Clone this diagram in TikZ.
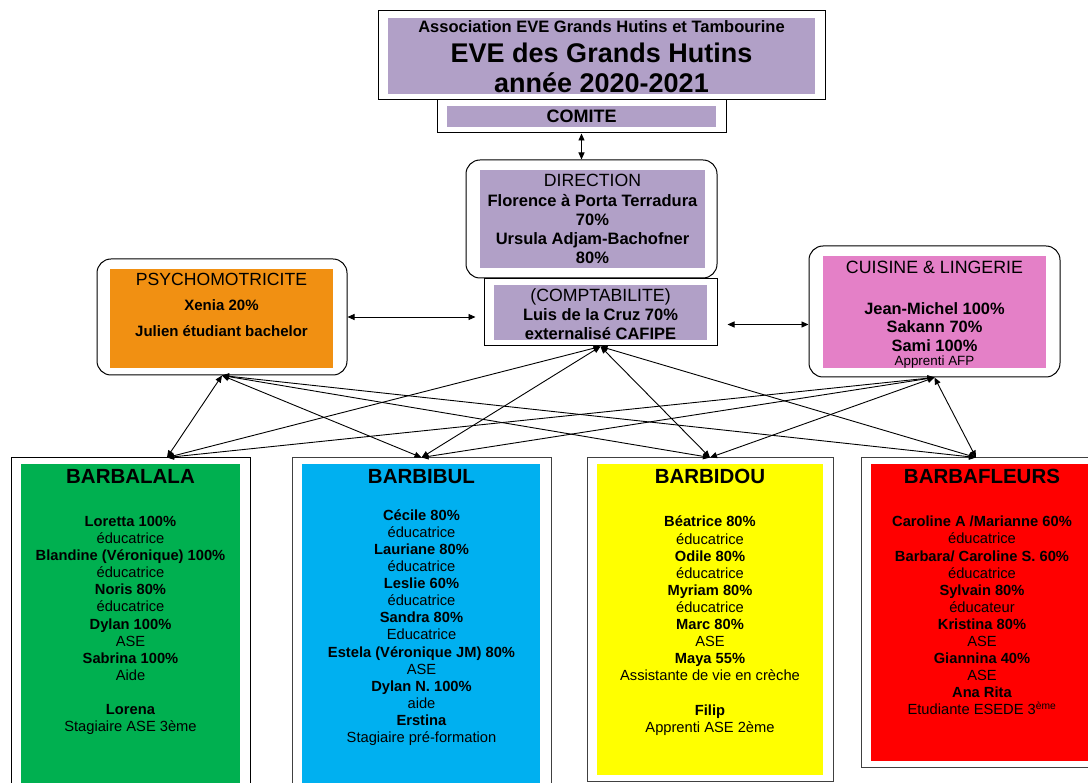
\documentclass[tikz,border=0pt]{standalone}
\usepackage{fontspec}
\setmainfont{Liberation Sans}
\usetikzlibrary{arrows.meta}

\definecolor{lilas}{RGB}{177,160,199}
\definecolor{orangepsy}{RGB}{241,144,18}
\definecolor{rosecuisine}{RGB}{228,128,199}
\definecolor{vertlala}{RGB}{0,176,80}
\definecolor{bleubibul}{RGB}{0,176,240}
\definecolor{jaunebidou}{RGB}{255,255,0}
\definecolor{rougefleurs}{RGB}{255,0,0}

\tikzset{
  cadre/.style={draw=black, line width=1pt, inner sep=0pt},
  arrondi/.style={cadre, rounded corners=14pt},
  fond/.style={inner sep=0pt, draw=none},
  corps/.style={align=center, inner sep=0pt, anchor=north},
  lien/.style={{Triangle[length=7pt,width=6pt]}-{Triangle[length=7pt,width=6pt]}, line width=0.9pt}
}

\begin{document}
\begin{tikzpicture}[x=1pt,y=-1pt]

    \useasboundingbox (0,0) rectangle (1088,783);
    \clip (0,0) rectangle (1088,783);
    \fill[white] (0,0) rectangle (1088,783);

    %titre
    \node[cadre, minimum width=447, minimum height=89] (titre) at (601.5,55.5) {};
    \node[fond, fill=lilas, minimum width=427, minimum height=76] (titreFond) at (601.5,56) {};
    \node[anchor=base, inner sep=0pt, font=\fontsize{16.5}{19}\selectfont\bfseries] (titreAssoc) at (601.5,33) {Association EVE Grands Hutins et Tambourine};
    \node[anchor=base, inner sep=0pt, font=\fontsize{27}{30}\selectfont\bfseries] (titreEve) at (601.5,63) {EVE des Grands Hutins};
    \node[anchor=base, inner sep=0pt, font=\fontsize{27}{30}\selectfont\bfseries] (titreAnnee) at (601.5,93) {année 2020-2021};

    %comite
    \node[cadre, minimum width=289, minimum height=33] (comite) at (581.5,116.5) {};
    \node[fond, fill=lilas, minimum width=269, minimum height=21] (comiteFond) at (581.5,116.5) {};
    \node[anchor=base, inner sep=0pt, font=\fontsize{18}{20}\selectfont\bfseries] (comiteTxt) at (581.5,123) {COMITE};

    %direction
    \node[arrondi, minimum width=251, minimum height=118] (direction) at (591.5,219) {};
    \node[fond, fill=lilas, minimum width=225, minimum height=98] (directionFond) at (592.5,219) {};
    \node[anchor=base, inner sep=0pt, font=\fontsize{17.7}{20}\selectfont] (directionTitre) at (592.5,187) {DIRECTION};
    \node[corps, font=\fontsize{16.5}{19}\selectfont\bfseries] (directionCorps) at (592.5,194.5)
        {Florence à Porta Terradura\\ 70\%\\ Ursula Adjam-Bachofner\\ 80\%};

    %comptabilite
    \node[cadre, minimum width=233, minimum height=67] (compta) at (600.5,312.5) {};
    \node[fond, fill=lilas, minimum width=213, minimum height=55] (comptaFond) at (600.5,312.5) {};
    \node[anchor=base, inner sep=0pt, font=\fontsize{17.7}{20}\selectfont] (comptaTitre) at (600.5,301.5) {(COMPTABILITE)};
    \node[corps, font=\fontsize{16.5}{18.5}\selectfont\bfseries] (comptaCorps) at (600.5,308.7)
        {Luis de la Cruz 70\%\\ externalisé CAFIPE};

    %psychomotricite
    \node[arrondi, minimum width=250, minimum height=116] (psy) at (222,317) {};
    \node[fond, fill=orangepsy, minimum width=223, minimum height=99] (psyFond) at (221.5,318.5) {};
    \node[anchor=base, inner sep=0pt, font=\fontsize{17.6}{20}\selectfont] (psyTitre) at (221.5,286) {PSYCHOMOTRICITE};
    \node[corps, font=\fontsize{15}{25.3}\selectfont\bfseries] (psyCorps) at (221.5,299.7)
        {Xenia 20\%\\ Julien étudiant bachelor};

    %cuisine
    \node[arrondi, minimum width=251, minimum height=131] (cuisine) at (934.5,311.5) {};
    \node[fond, fill=rosecuisine, minimum width=223, minimum height=112] (cuisineFond) at (934.5,312) {};
    \node[anchor=base, inner sep=0pt, font=\fontsize{17.8}{20}\selectfont] (cuisineTitre) at (934.5,273.3) {CUISINE \& LINGERIE};
    \node[corps, font=\fontsize{16.4}{18.5}\selectfont\bfseries] (cuisineCorps) at (934.5,302)
        {Jean-Michel 100\%\\ Sakann 70\%\\ Sami 100\%};
    \node[anchor=base, inner sep=0pt, font=\fontsize{13.4}{15}\selectfont] (cuisineApprenti) at (934.5,366) {Apprenti AFP};

    %groupes
    \node[cadre, minimum width=239, minimum height=342] (lala) at (130.5,629) {};
    \node[fond, fill=vertlala, minimum width=219, minimum height=336] (lalaFond) at (130.5,632) {};
    \node[cadre, draw=black!75, minimum width=259, minimum height=342] (bibul) at (421.5,629) {};
    \node[fond, fill=bleubibul, minimum width=238, minimum height=336] (bibulFond) at (421,632) {};
    \node[cadre, draw=black!75, minimum width=246, minimum height=323] (bidou) at (710,619.5) {};
    \node[fond, fill=jaunebidou, minimum width=226, minimum height=311] (bidouFond) at (710,619.5) {};
    \node[cadre, draw=black!75, minimum width=242, minimum height=309] (fleurs) at (982,612.5) {};
    \node[fond, fill=rougefleurs, minimum width=222, minimum height=297] (fleursFond) at (982,612.5) {};

    \foreach \g/\nom in {lala/BARBALALA, bibul/BARBIBUL, bidou/BARBIDOU, fleurs/BARBAFLEURS}
        \node[anchor=base, inner sep=0pt, font=\fontsize{20.5}{23}\selectfont\bfseries] (\g Titre) at (\g.center |- 0,484) {\nom};

    \tikzset{colonne/.style={corps, font=\fontsize{14.7}{17.1}\selectfont}}
    \node[colonne] (lalaCorps) at (130.5,516)
        {\textbf{Loretta 100\%}\\ éducatrice\\ \textbf{Blandine (Véronique) 100\%}\\ éducatrice\\
         \textbf{Noris 80\%}\\ éducatrice\\ \textbf{Dylan 100\%}\\ ASE\\ \textbf{Sabrina 100\%}\\ Aide\\[17.1pt]
         \textbf{Lorena}\\ Stagiaire ASE 3ème};
    \node[colonne] (bibulCorps) at (421.5,509.3)
        {\textbf{Cécile 80\%}\\ éducatrice\\ \textbf{Lauriane 80\%}\\ éducatrice\\ \textbf{Leslie 60\%}\\ éducatrice\\
         \textbf{Sandra 80\%}\\ Educatrice\\ \textbf{Estela (Véronique JM) 80\%}\\ ASE\\ \textbf{Dylan N. 100\%}\\ aide\\
         \textbf{Erstina}\\ Stagiaire pré-formation};
    \node[colonne] (bidouCorps) at (710,516)
        {\textbf{Béatrice 80\%}\\ éducatrice\\ \textbf{Odile 80\%}\\ éducatrice\\ \textbf{Myriam 80\%}\\ éducatrice\\
         \textbf{Marc 80\%}\\ ASE\\ \textbf{Maya 55\%}\\ Assistante de vie en crèche\\[17.1pt]
         \textbf{Filip}\\ Apprenti ASE 2ème};
    \node[colonne] (fleursCorps) at (982,516)
        {\textbf{Caroline A /Marianne 60\%}\\ éducatrice\\ \textbf{Barbara/ Caroline S. 60\%}\\ éducatrice\\
         \textbf{Sylvain 80\%}\\ éducateur\\ \textbf{Kristina 80\%}\\ ASE\\ \textbf{Giannina 40\%}\\ ASE\\
         \textbf{Ana Rita}\\ Etudiante ESEDE 3\textsuperscript{ème}};

    %liens
    \draw[lien] (comite.south) -- (comite.south |- direction.north);
    \draw[lien, shorten >=8pt] (psy.east) -- (psy.east -| compta.west);
    \draw[lien, shorten <=10pt] ([yshift=-12pt]compta.east) -- ([yshift=-12pt]compta.east -| cuisine.west);

    \coordinate (lalaHaut) at ([xshift=36.5pt]lala.north);
    \coordinate (fleursHaut) at ([xshift=-6pt]fleurs.north);
    \foreach \g in {lalaHaut, bibul.north, bidou.north, fleursHaut} {
        \draw[lien] (psy.south) -- (\g);
        \draw[lien] (compta.south) -- (\g);
        \draw[lien] (cuisine.south) -- (\g);
    }

\end{tikzpicture}
\end{document}
